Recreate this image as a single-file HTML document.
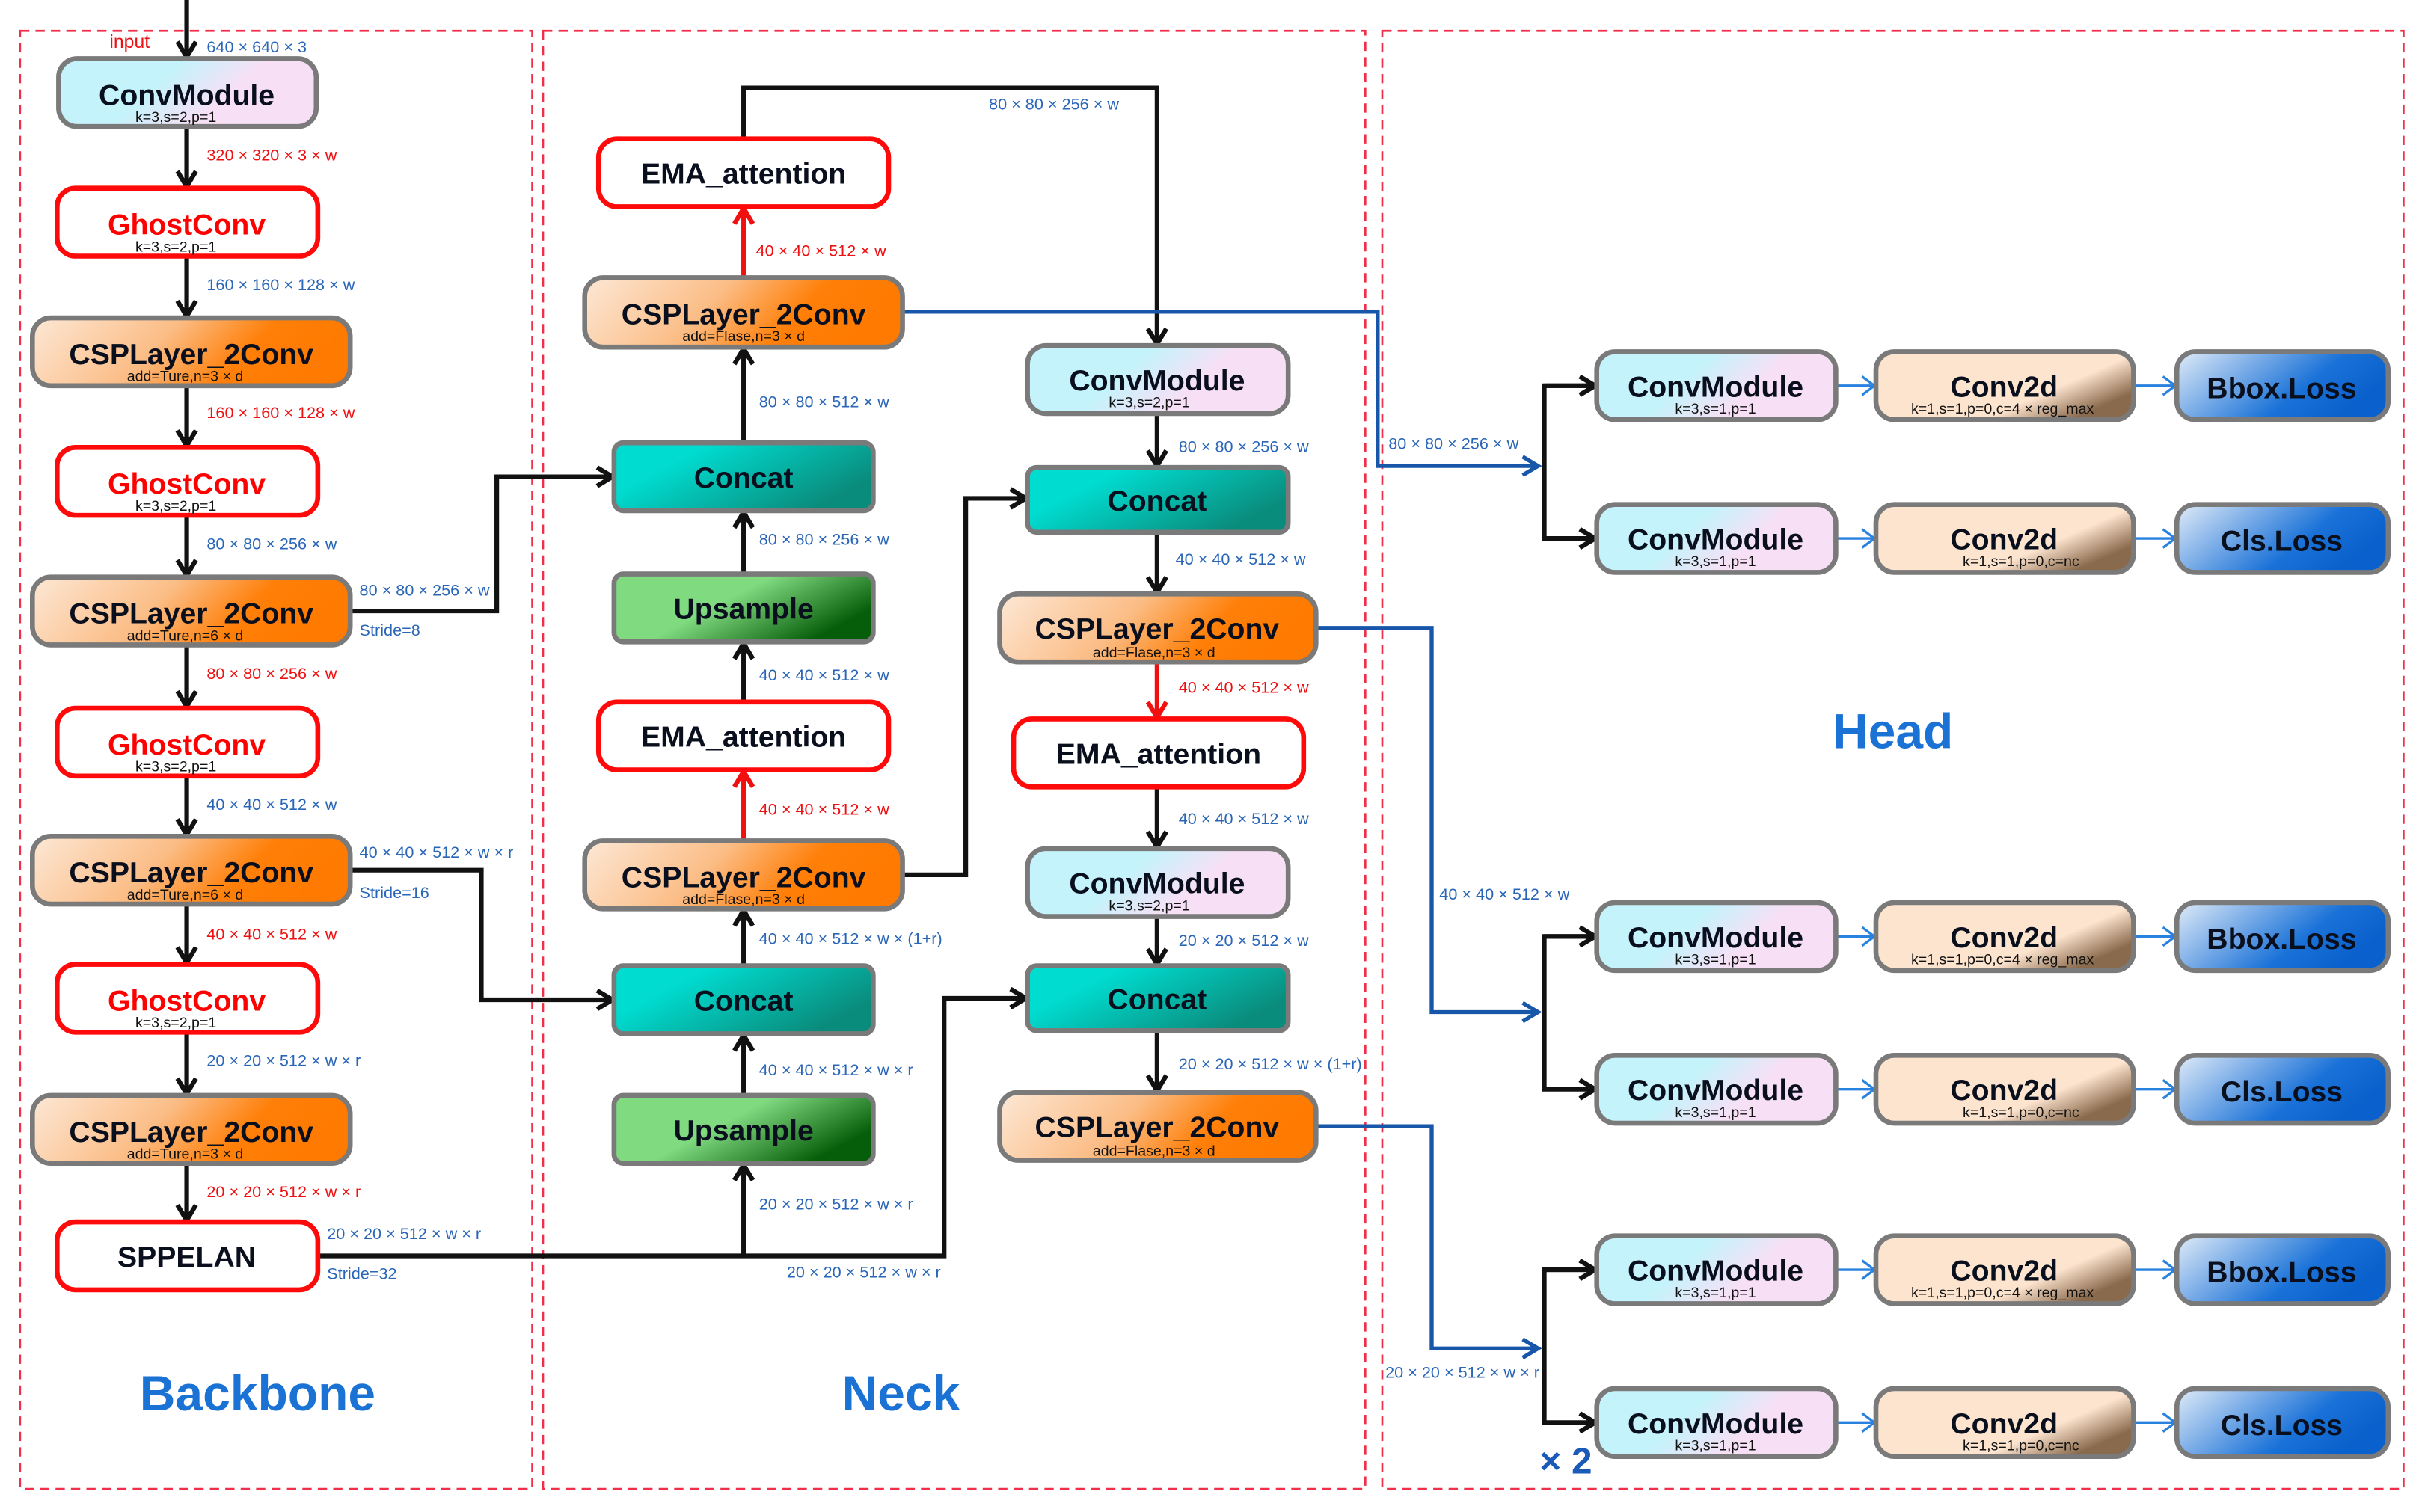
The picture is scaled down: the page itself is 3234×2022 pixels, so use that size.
<!DOCTYPE html>
<html><head><meta charset="utf-8"><style>
html,body{margin:0;padding:0;background:#fff}
svg{display:block}
text{font-family:"Liberation Sans",Arial,sans-serif}
.m{font-weight:bold;font-size:19px;fill:#0a0f1e;text-anchor:middle}
.s{font-size:9.5px;fill:#111;text-anchor:middle}
.b{font-size:10.5px;fill:#2a66b8}
.r{font-size:10.5px;fill:#ee1111}
.blk{stroke:#111;stroke-width:3;fill:none}
.red{stroke:#f01010;stroke-width:3;fill:none}
.blu{stroke:#1756a8;stroke-width:2.6;fill:none}
.lb{stroke:#2a82e0;stroke-width:1.6;fill:none}
.dash{stroke:#f0304a;stroke-width:1.3;fill:none;stroke-dasharray:6 4}
.g{stroke:#7a7a7a;stroke-width:3.2}
.rb{stroke:#ff0a0a;stroke-width:3.2;fill:#fff}
.big{font-weight:bold;font-size:32px;fill:#1a72d4;text-anchor:middle}
</style></head><body>
<svg width="3234" height="2022" viewBox="0 0 1568 980" preserveAspectRatio="none" xmlns="http://www.w3.org/2000/svg">
<defs>
<linearGradient id="cv" x1="0" y1="0" x2="1" y2="0.3"><stop offset="0.45" stop-color="#c4f3fb"/><stop offset="0.75" stop-color="#f7e0f6"/></linearGradient>
<linearGradient id="csp" x1="0" y1="0" x2="1" y2="0.2"><stop offset="0" stop-color="#fde8d6"/><stop offset="0.45" stop-color="#fbbd86"/><stop offset="0.75" stop-color="#ff7f08"/><stop offset="1" stop-color="#ff7a00"/></linearGradient>
<linearGradient id="cc" x1="0" y1="0" x2="1" y2="0.5"><stop offset="0.3" stop-color="#00dcd0"/><stop offset="1" stop-color="#0a8c7c"/></linearGradient>
<linearGradient id="up" x1="0" y1="0" x2="1" y2="0.5"><stop offset="0.5" stop-color="#80da80"/><stop offset="1" stop-color="#075e0a"/></linearGradient>
<linearGradient id="c2" x1="0" y1="0" x2="1" y2="0.6"><stop offset="0.75" stop-color="#fde4cf"/><stop offset="1" stop-color="#8a6a4c"/></linearGradient>
<linearGradient id="ls" x1="0" y1="0" x2="1" y2="0.4"><stop offset="0" stop-color="#e2ecf8"/><stop offset="0.7" stop-color="#1a72d8"/><stop offset="1" stop-color="#0a60cc"/></linearGradient>
<marker id="ab" markerUnits="userSpaceOnUse" markerWidth="16" markerHeight="16" refX="13" refY="8" orient="auto"><path d="M3,2 L13,8 L3,14" fill="none" stroke="#111" stroke-width="3"/></marker>
<marker id="ar" markerUnits="userSpaceOnUse" markerWidth="16" markerHeight="16" refX="13" refY="8" orient="auto"><path d="M3,2 L13,8 L3,14" fill="none" stroke="#f01010" stroke-width="3"/></marker>
<marker id="au" markerUnits="userSpaceOnUse" markerWidth="16" markerHeight="16" refX="13" refY="8" orient="auto"><path d="M3,2 L13,8 L3,14" fill="none" stroke="#1756a8" stroke-width="2.6"/></marker>
<marker id="al" markerUnits="userSpaceOnUse" markerWidth="14" markerHeight="14" refX="11" refY="7" orient="auto"><path d="M3,1 L11,7 L3,13" fill="none" stroke="#2a82e0" stroke-width="1.6"/></marker>
</defs>

<rect class="dash" x="13" y="20" width="332" height="945"/>
<rect class="dash" x="352" y="20" width="533" height="945"/>
<rect class="dash" x="896" y="20" width="662" height="945"/>

<!-- Backbone connectors -->
<line class="blk" x1="121" y1="0" x2="121" y2="37" marker-end="url(#ab)"/>
<text x="71" y="31" style="font-size:12px;fill:#ee1111">input</text>
<text class="b" x="134" y="34">640 × 640 × 3</text>
<line class="blk" x1="121" y1="82" x2="121" y2="121" marker-end="url(#ab)"/>
<text class="r" x="134" y="104">320 × 320 × 3 × w</text>
<line class="blk" x1="121" y1="166" x2="121" y2="205" marker-end="url(#ab)"/>
<text class="b" x="134" y="188">160 × 160 × 128 × w</text>
<line class="blk" x1="121" y1="250" x2="121" y2="289" marker-end="url(#ab)"/>
<text class="r" x="134" y="271">160 × 160 × 128 × w</text>
<line class="blk" x1="121" y1="334" x2="121" y2="373" marker-end="url(#ab)"/>
<text class="b" x="134" y="356">80 × 80 × 256 × w</text>
<line class="blk" x1="121" y1="418" x2="121" y2="458" marker-end="url(#ab)"/>
<text class="r" x="134" y="440">80 × 80 × 256 × w</text>
<line class="blk" x1="121" y1="503" x2="121" y2="541" marker-end="url(#ab)"/>
<text class="b" x="134" y="525">40 × 40 × 512 × w</text>
<line class="blk" x1="121" y1="586" x2="121" y2="624" marker-end="url(#ab)"/>
<text class="r" x="134" y="609">40 × 40 × 512 × w</text>
<line class="blk" x1="121" y1="669" x2="121" y2="709" marker-end="url(#ab)"/>
<text class="b" x="134" y="691">20 × 20 × 512 × w × r</text>
<line class="blk" x1="121" y1="754" x2="121" y2="791" marker-end="url(#ab)"/>
<text class="r" x="134" y="776">20 × 20 × 512 × w × r</text>

<polyline class="blk" points="227,396 322,396 322,309 397,309" marker-end="url(#ab)"/>
<text class="b" x="233" y="386">80 × 80 × 256 × w</text>
<text class="b" x="233" y="412">Stride=8</text>
<polyline class="blk" points="227,564 312,564 312,648 397,648" marker-end="url(#ab)"/>
<text class="b" x="233" y="556">40 × 40 × 512 × w × r</text>
<text class="b" x="233" y="582">Stride=16</text>
<polyline class="blk" points="206,814 612,814 612,647 665,647" marker-end="url(#ab)"/>
<line class="blk" x1="482" y1="814" x2="482" y2="755" marker-end="url(#ab)"/>
<text class="b" x="212" y="803">20 × 20 × 512 × w × r</text>
<text class="b" x="212" y="829">Stride=32</text>
<text class="b" x="492" y="784">20 × 20 × 512 × w × r</text>
<text class="b" x="510" y="828">20 × 20 × 512 × w × r</text>

<!-- Neck left column -->
<line class="blk" x1="482" y1="710" x2="482" y2="671" marker-end="url(#ab)"/>
<text class="b" x="492" y="697">40 × 40 × 512 × w × r</text>
<line class="blk" x1="482" y1="626" x2="482" y2="590" marker-end="url(#ab)"/>
<text class="b" x="492" y="612">40 × 40 × 512 × w × (1+r)</text>
<line class="red" x1="482" y1="545" x2="482" y2="500" marker-end="url(#ar)"/>
<text class="r" x="492" y="528">40 × 40 × 512 × w</text>
<polyline class="blk" points="585,567 626,567 626,323 665,323" marker-end="url(#ab)"/>
<line class="blk" x1="482" y1="455" x2="482" y2="417" marker-end="url(#ab)"/>
<text class="b" x="492" y="441">40 × 40 × 512 × w</text>
<line class="blk" x1="482" y1="372" x2="482" y2="332" marker-end="url(#ab)"/>
<text class="b" x="492" y="353">80 × 80 × 256 × w</text>
<line class="blk" x1="482" y1="287" x2="482" y2="226" marker-end="url(#ab)"/>
<text class="b" x="492" y="264">80 × 80 × 512 × w</text>
<line class="red" x1="482" y1="180" x2="482" y2="135" marker-end="url(#ar)"/>
<text class="r" x="490" y="166">40 × 40 × 512 × w</text>
<polyline class="blk" points="482,90 482,57 750,57 750,223" marker-end="url(#ab)"/>
<text class="b" x="641" y="71">80 × 80 × 256 × w</text>

<!-- Neck right column -->
<line class="blk" x1="750" y1="268" x2="750" y2="302" marker-end="url(#ab)"/>
<text class="b" x="764" y="293">80 × 80 × 256 × w</text>
<line class="blk" x1="750" y1="345" x2="750" y2="384" marker-end="url(#ab)"/>
<text class="b" x="762" y="366">40 × 40 × 512 × w</text>
<line class="red" x1="750" y1="429" x2="750" y2="465" marker-end="url(#ar)"/>
<text class="r" x="764" y="449">40 × 40 × 512 × w</text>
<line class="blk" x1="750" y1="510" x2="750" y2="549" marker-end="url(#ab)"/>
<text class="b" x="764" y="534">40 × 40 × 512 × w</text>
<line class="blk" x1="750" y1="594" x2="750" y2="625" marker-end="url(#ab)"/>
<text class="b" x="764" y="613">20 × 20 × 512 × w</text>
<line class="blk" x1="750" y1="668" x2="750" y2="707" marker-end="url(#ab)"/>
<text class="b" x="764" y="693">20 × 20 × 512 × w × (1+r)</text>

<!-- to Head -->
<polyline class="blu" points="585,202 893,202 893,302 997,302" marker-end="url(#au)"/>
<text class="b" x="900" y="291">80 × 80 × 256 × w</text>
<polyline class="blu" points="853,407 928,407 928,656 997,656" marker-end="url(#au)"/>
<text class="b" x="933" y="583">40 × 40 × 512 × w</text>
<polyline class="blu" points="853,730 928,730 928,874 997,874" marker-end="url(#au)"/>
<text class="b" x="898" y="893">20 × 20 × 512 × w × r</text>

<polyline class="blk" points="1034,250 1001,250 1001,349 1034,349" marker-end="url(#ab)"/>
<line class="blk" x1="1001" y1="250" x2="1034" y2="250" marker-end="url(#ab)"/>
<polyline class="blk" points="1034,607 1001,607 1001,706 1034,706" marker-end="url(#ab)"/>
<line class="blk" x1="1001" y1="607" x2="1034" y2="607" marker-end="url(#ab)"/>
<polyline class="blk" points="1034,823 1001,823 1001,922 1034,922" marker-end="url(#ab)"/>
<line class="blk" x1="1001" y1="823" x2="1034" y2="823" marker-end="url(#ab)"/>

<g>
<line class="lb" x1="1190" y1="250" x2="1215" y2="250" marker-end="url(#al)"/><line class="lb" x1="1383" y1="250" x2="1410" y2="250" marker-end="url(#al)"/>
<line class="lb" x1="1190" y1="349" x2="1215" y2="349" marker-end="url(#al)"/><line class="lb" x1="1383" y1="349" x2="1410" y2="349" marker-end="url(#al)"/>
<line class="lb" x1="1190" y1="607" x2="1215" y2="607" marker-end="url(#al)"/><line class="lb" x1="1383" y1="607" x2="1410" y2="607" marker-end="url(#al)"/>
<line class="lb" x1="1190" y1="706" x2="1215" y2="706" marker-end="url(#al)"/><line class="lb" x1="1383" y1="706" x2="1410" y2="706" marker-end="url(#al)"/>
<line class="lb" x1="1190" y1="823" x2="1215" y2="823" marker-end="url(#al)"/><line class="lb" x1="1383" y1="823" x2="1410" y2="823" marker-end="url(#al)"/>
<line class="lb" x1="1190" y1="922" x2="1215" y2="922" marker-end="url(#al)"/><line class="lb" x1="1383" y1="922" x2="1410" y2="922" marker-end="url(#al)"/>
</g>

<!-- Backbone nodes -->
<rect class="g" x="38" y="38" width="167" height="44" rx="12" fill="url(#cv)"/><text class="m" x="121" y="68">ConvModule</text><text class="s" x="114" y="79">k=3,s=2,p=1</text>
<rect class="rb" x="37" y="122" width="169" height="44" rx="12"/><text class="m" x="121" y="152" style="fill:#f00">GhostConv</text><text class="s" x="114" y="163">k=3,s=2,p=1</text>
<rect class="g" x="21" y="206" width="206" height="44" rx="12" fill="url(#csp)"/><text class="m" x="124" y="236">CSPLayer_2Conv</text><text class="s" x="120" y="247">add=Ture,n=3 × d</text>
<rect class="rb" x="37" y="290" width="169" height="44" rx="12"/><text class="m" x="121" y="320" style="fill:#f00">GhostConv</text><text class="s" x="114" y="331">k=3,s=2,p=1</text>
<rect class="g" x="21" y="374" width="206" height="44" rx="12" fill="url(#csp)"/><text class="m" x="124" y="404">CSPLayer_2Conv</text><text class="s" x="120" y="415">add=Ture,n=6 × d</text>
<rect class="rb" x="37" y="459" width="169" height="44" rx="12"/><text class="m" x="121" y="489" style="fill:#f00">GhostConv</text><text class="s" x="114" y="500">k=3,s=2,p=1</text>
<rect class="g" x="21" y="542" width="206" height="44" rx="12" fill="url(#csp)"/><text class="m" x="124" y="572">CSPLayer_2Conv</text><text class="s" x="120" y="583">add=Ture,n=6 × d</text>
<rect class="rb" x="37" y="625" width="169" height="44" rx="12"/><text class="m" x="121" y="655" style="fill:#f00">GhostConv</text><text class="s" x="114" y="666">k=3,s=2,p=1</text>
<rect class="g" x="21" y="710" width="206" height="44" rx="12" fill="url(#csp)"/><text class="m" x="124" y="740">CSPLayer_2Conv</text><text class="s" x="120" y="751">add=Ture,n=3 × d</text>
<rect class="rb" x="37" y="792" width="169" height="44" rx="12"/><text class="m" x="121" y="821">SPPELAN</text>

<!-- Neck nodes -->
<rect class="rb" x="388" y="90" width="188" height="44" rx="12"/><text class="m" x="482" y="119">EMA_attention</text>
<rect class="g" x="379" y="180" width="206" height="45" rx="12" fill="url(#csp)"/><text class="m" x="482" y="210">CSPLayer_2Conv</text><text class="s" x="482" y="221">add=Flase,n=3 × d</text>
<rect class="g" x="398" y="287" width="168" height="44" rx="6" fill="url(#cc)"/><text class="m" x="482" y="316">Concat</text>
<rect class="g" x="398" y="372" width="168" height="44" rx="6" fill="url(#up)"/><text class="m" x="482" y="401">Upsample</text>
<rect class="rb" x="388" y="455" width="188" height="44" rx="12"/><text class="m" x="482" y="484">EMA_attention</text>
<rect class="g" x="379" y="545" width="206" height="44" rx="12" fill="url(#csp)"/><text class="m" x="482" y="575">CSPLayer_2Conv</text><text class="s" x="482" y="586">add=Flase,n=3 × d</text>
<rect class="g" x="398" y="626" width="168" height="44" rx="6" fill="url(#cc)"/><text class="m" x="482" y="655">Concat</text>
<rect class="g" x="398" y="710" width="168" height="44" rx="6" fill="url(#up)"/><text class="m" x="482" y="739">Upsample</text>

<rect class="g" x="666" y="224" width="169" height="44" rx="12" fill="url(#cv)"/><text class="m" x="750" y="253">ConvModule</text><text class="s" x="745" y="264">k=3,s=2,p=1</text>
<rect class="g" x="666" y="303" width="169" height="42" rx="6" fill="url(#cc)"/><text class="m" x="750" y="331">Concat</text>
<rect class="g" x="648" y="385" width="205" height="44" rx="12" fill="url(#csp)"/><text class="m" x="750" y="414">CSPLayer_2Conv</text><text class="s" x="748" y="426">add=Flase,n=3 × d</text>
<rect class="rb" x="657" y="466" width="188" height="44" rx="12"/><text class="m" x="751" y="495">EMA_attention</text>
<rect class="g" x="666" y="550" width="169" height="44" rx="12" fill="url(#cv)"/><text class="m" x="750" y="579">ConvModule</text><text class="s" x="745" y="590">k=3,s=2,p=1</text>
<rect class="g" x="666" y="626" width="169" height="42" rx="6" fill="url(#cc)"/><text class="m" x="750" y="654">Concat</text>
<rect class="g" x="648" y="708" width="205" height="44" rx="12" fill="url(#csp)"/><text class="m" x="750" y="737">CSPLayer_2Conv</text><text class="s" x="748" y="749">add=Flase,n=3 × d</text>

<!-- Head nodes -->
<g id="h1">
<rect class="g" x="1035" y="228" width="155" height="44" rx="12" fill="url(#cv)"/><text class="m" x="1112" y="257">ConvModule</text><text class="s" x="1112" y="268">k=3,s=1,p=1</text>
<rect class="g" x="1216" y="228" width="167" height="44" rx="12" fill="url(#c2)"/><text class="m" x="1299" y="257">Conv2d</text><text class="s" x="1298" y="268">k=1,s=1,p=0,c=4 × reg_max</text>
<rect class="g" x="1411" y="228" width="137" height="44" rx="12" fill="url(#ls)"/><text class="m" x="1479" y="258">Bbox.Loss</text>
<rect class="g" x="1035" y="327" width="155" height="44" rx="12" fill="url(#cv)"/><text class="m" x="1112" y="356">ConvModule</text><text class="s" x="1112" y="367">k=3,s=1,p=1</text>
<rect class="g" x="1216" y="327" width="167" height="44" rx="12" fill="url(#c2)"/><text class="m" x="1299" y="356">Conv2d</text><text class="s" x="1310" y="367">k=1,s=1,p=0,c=nc</text>
<rect class="g" x="1411" y="327" width="137" height="44" rx="12" fill="url(#ls)"/><text class="m" x="1479" y="357">Cls.Loss</text>
</g>
<g>
<rect class="g" x="1035" y="585" width="155" height="44" rx="12" fill="url(#cv)"/><text class="m" x="1112" y="614">ConvModule</text><text class="s" x="1112" y="625">k=3,s=1,p=1</text>
<rect class="g" x="1216" y="585" width="167" height="44" rx="12" fill="url(#c2)"/><text class="m" x="1299" y="614">Conv2d</text><text class="s" x="1298" y="625">k=1,s=1,p=0,c=4 × reg_max</text>
<rect class="g" x="1411" y="585" width="137" height="44" rx="12" fill="url(#ls)"/><text class="m" x="1479" y="615">Bbox.Loss</text>
<rect class="g" x="1035" y="684" width="155" height="44" rx="12" fill="url(#cv)"/><text class="m" x="1112" y="713">ConvModule</text><text class="s" x="1112" y="724">k=3,s=1,p=1</text>
<rect class="g" x="1216" y="684" width="167" height="44" rx="12" fill="url(#c2)"/><text class="m" x="1299" y="713">Conv2d</text><text class="s" x="1310" y="724">k=1,s=1,p=0,c=nc</text>
<rect class="g" x="1411" y="684" width="137" height="44" rx="12" fill="url(#ls)"/><text class="m" x="1479" y="714">Cls.Loss</text>
</g>
<g>
<rect class="g" x="1035" y="801" width="155" height="44" rx="12" fill="url(#cv)"/><text class="m" x="1112" y="830">ConvModule</text><text class="s" x="1112" y="841">k=3,s=1,p=1</text>
<rect class="g" x="1216" y="801" width="167" height="44" rx="12" fill="url(#c2)"/><text class="m" x="1299" y="830">Conv2d</text><text class="s" x="1298" y="841">k=1,s=1,p=0,c=4 × reg_max</text>
<rect class="g" x="1411" y="801" width="137" height="44" rx="12" fill="url(#ls)"/><text class="m" x="1479" y="831">Bbox.Loss</text>
<rect class="g" x="1035" y="900" width="155" height="44" rx="12" fill="url(#cv)"/><text class="m" x="1112" y="929">ConvModule</text><text class="s" x="1112" y="940">k=3,s=1,p=1</text>
<rect class="g" x="1216" y="900" width="167" height="44" rx="12" fill="url(#c2)"/><text class="m" x="1299" y="929">Conv2d</text><text class="s" x="1310" y="940">k=1,s=1,p=0,c=nc</text>
<rect class="g" x="1411" y="900" width="137" height="44" rx="12" fill="url(#ls)"/><text class="m" x="1479" y="930">Cls.Loss</text>
</g>

<text class="big" x="167" y="914">Backbone</text>
<text class="big" x="584" y="914">Neck</text>
<text class="big" x="1227" y="485">Head</text>
<text x="998" y="955" style="font-weight:bold;font-size:24px;fill:#1a5ab8">× 2</text>
</svg>
</body></html>
